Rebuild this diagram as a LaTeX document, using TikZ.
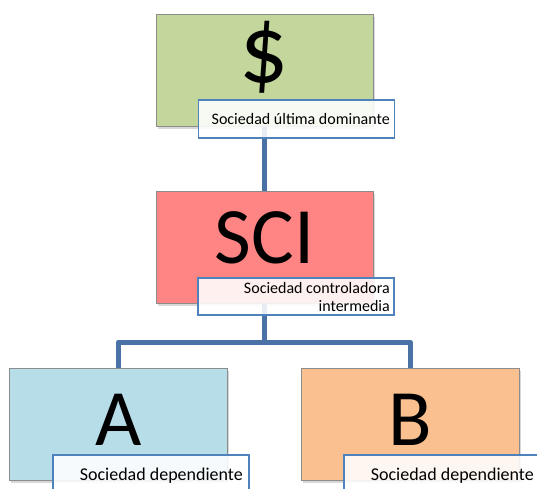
\documentclass[tikz,border=0pt]{standalone}
\usepackage{fontspec}
\setmainfont{Carlito}
\usetikzlibrary{shadows}
\definecolor{boxedge}{HTML}{8C8C8C}
\definecolor{tagedge}{HTML}{4F81BD}
\definecolor{linkblue}{HTML}{4A72A6}
\definecolor{parentgreen}{HTML}{C3D69B}
\definecolor{midred}{HTML}{FF8585}
\definecolor{childblue}{HTML}{B7DDE8}
\definecolor{childorange}{HTML}{FAC090}
\begin{document}
\begin{tikzpicture}[x=1pt,y=-1pt,
  entity/.style={draw=boxedge, line width=0.8pt, minimum height=112pt,
    inner sep=0pt, outer sep=0pt,
    drop shadow={shadow xshift=1.5pt, shadow yshift=-3pt, opacity=0.3}},
  tag/.style={draw=tagedge, line width=1.4pt, fill=white, fill opacity=0.88,
    inner sep=0pt, outer sep=0pt, minimum width=196pt},
  link/.style={draw=linkblue, line width=5pt, line join=round},
  big/.style={font=\fontsize{80}{80}\selectfont, inner sep=0pt, anchor=base},
  small/.style={font=\fontsize{16}{18}\selectfont, inner sep=0pt, anchor=base east},
  smaller/.style={font=\fontsize{18}{20}\selectfont, inner sep=0pt, anchor=base east},
]
\fill[white] (0,0) rectangle (537,488);
\clip (0,0) rectangle (537,488);

% company boxes
\node[entity, fill=parentgreen, minimum width=217pt] (top) at (264.5,70) {};
\node[entity, fill=midred, minimum width=217pt] (sci) at (264.5,247) {};
\node[entity, fill=childblue, minimum width=218pt] (a) at (118.5,424) {};
\node[entity, fill=childorange, minimum width=218pt] (b) at (410,424) {};

% ownership links
\coordinate (fork) at (264.5,342);
\draw[link] (top.south) -- (sci.north);
\draw[link] (sci.south) -- (fork) -| (a.north);
\draw[link] (fork) -| (b.north);

% big symbols
\node[big, font=\fontsize{97}{97}\selectfont] (topsym) at (264.5,82) {\$};
\node[big] (scisym) at (264.5,263) {SCI};
\node[big] (asym) at (118.5,445) {A};
\node[big] (bsym) at (410,445) {B};

% caption tags
\node[tag, minimum height=38pt] (toptag) at (296.5,119) {};
\node[tag, minimum height=37pt] (scitag) at (296,296.5) {};
\node[tag, minimum height=45pt] (atag) at (151,477.5) {};
\node[tag, minimum height=45pt] (btag) at (442,477.5) {};

\node[small] (toptext) at (390,124) {Sociedad última dominante};
\node[small] (scitext1) at (390,293) {Sociedad controladora};
\node[small] (scitext2) at (390,311) {intermedia};
\node[smaller] (atext) at (243,480) {Sociedad dependiente};
\node[smaller] (btext) at (534,480) {Sociedad dependiente};
\end{tikzpicture}
\end{document}
